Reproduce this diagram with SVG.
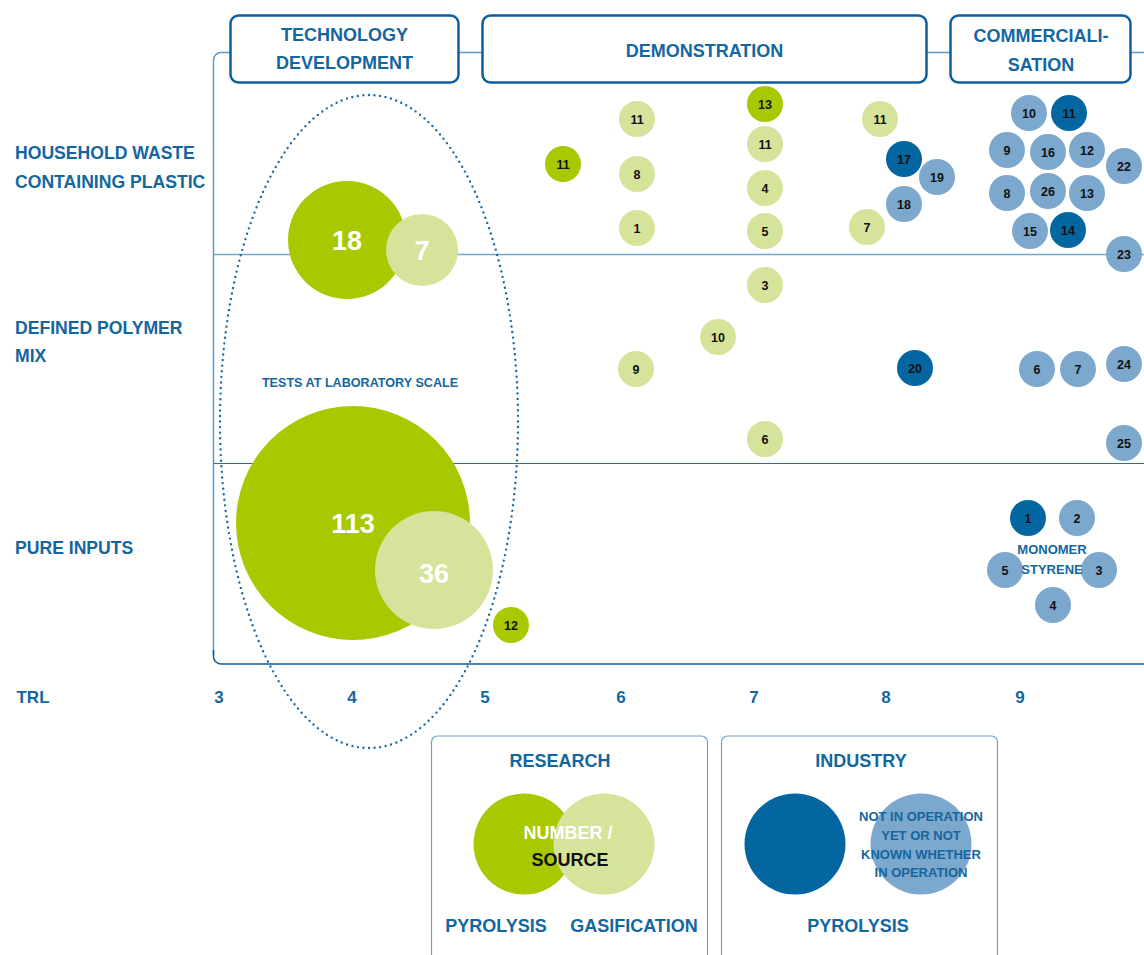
<svg xmlns="http://www.w3.org/2000/svg" width="1144" height="955" viewBox="0 0 1144 955">
<style>
text{font-family:"Liberation Sans",Arial,sans-serif;font-weight:bold;text-anchor:middle}
.hd{fill:#14669f;font-size:18px}
.row{fill:#14669f;font-size:17.6px;text-anchor:start}
.ax{fill:#14669f;font-size:17px}
.n{fill:#111;font-size:12.5px}
.big{fill:#fff;font-size:27px}
.sm{fill:#14669f;font-size:13px}
.box{fill:#fff;stroke:#0b5f9c;stroke-width:2.5}
.lbox{fill:#fff;stroke:#6aa3cc;stroke-width:1.2}
.pg{fill:#a8c800}
.lg{fill:#d6e39b}
.db{fill:#0366a1}
.lb{fill:#7ba8cc}
</style>
<rect width="1144" height="955" fill="#fff"/>
<g id="frame">
<path d="M1144 52.5H221a7.5 7.5 0 0 0-7.5 7.5V655" fill="none" stroke="#5b9acb" stroke-width="1.5"/>
<path d="M213.5 650v6.5a7.5 7.5 0 0 0 7.5 7.5H1144" fill="none" stroke="#0c5c94" stroke-width="1.5"/>
<line x1="213.5" y1="254.5" x2="1144" y2="254.5" stroke="#6fa8d0" stroke-width="1.5"/>
<line x1="213.5" y1="463.5" x2="1144" y2="463.5" stroke="#2a6e9c" stroke-width="1.2"/>
</g>
<g id="headers">
<g id="h-tech"><rect class="box" x="230.5" y="15.5" width="228" height="67" rx="8"/><text class="hd" x="344.5" y="41">TECHNOLOGY</text><text class="hd" x="344.5" y="69">DEVELOPMENT</text></g>
<g id="h-demo"><rect class="box" x="482.5" y="15.5" width="444" height="67" rx="8"/><text class="hd" x="704.5" y="56.5">DEMONSTRATION</text></g>
<g id="h-comm"><rect class="box" x="950.5" y="15.5" width="180" height="67" rx="8"/><text class="hd" x="1041" y="41.5">COMMERCIALI-</text><text class="hd" x="1041" y="70.5">SATION</text></g>
</g>
<g id="rows">
<text class="row" x="15" y="159">HOUSEHOLD WASTE</text>
<text class="row" x="15" y="188">CONTAINING PLASTIC</text>
<text class="row" x="15" y="334">DEFINED POLYMER</text>
<text class="row" x="15" y="362">MIX</text>
<text class="row" x="15" y="554">PURE INPUTS</text>
</g>
<g id="axis">
<text class="ax" x="33" y="703">TRL</text>
<text class="ax" x="219" y="703">3</text>
<text class="ax" x="352" y="703">4</text>
<text class="ax" x="485" y="703">5</text>
<text class="ax" x="621" y="703">6</text>
<text class="ax" x="754" y="703">7</text>
<text class="ax" x="886" y="703">8</text>
<text class="ax" x="1020" y="703">9</text>
</g>
<g id="lab">
<g id="b18"><circle class="pg" cx="347" cy="240" r="59"/><text class="big" x="347" y="250">18</text></g>
<g id="b7"><circle class="lg" cx="422" cy="250" r="36"/><text class="big" x="422" y="260">7</text></g>
<g id="b113"><circle class="pg" cx="353" cy="523" r="117"/><text class="big" x="353" y="533">113</text></g>
<g id="b36"><circle class="lg" cx="434" cy="570" r="59"/><text class="big" x="434" y="583">36</text></g>
<text class="sm" x="360" y="386.5" style="font-size:12.6px">TESTS AT LABORATORY SCALE</text>
<ellipse cx="369" cy="421.5" rx="149" ry="326.5" fill="none" stroke="#1a6aa3" stroke-width="2.4" stroke-dasharray="0 5.6" stroke-linecap="round"/>
</g>
<g id="bubbles">
<g><circle class="pg" cx="563" cy="164" r="18"/><text class="n" x="563" y="168.5">11</text></g>
<g><circle class="pg" cx="765" cy="104" r="18"/><text class="n" x="765" y="108.5">13</text></g>
<g><circle class="pg" cx="511" cy="625" r="18"/><text class="n" x="511" y="629.5">12</text></g>
<g><circle class="lg" cx="637" cy="119" r="18"/><text class="n" x="637" y="123.5">11</text></g>
<g><circle class="lg" cx="637" cy="174" r="18"/><text class="n" x="637" y="178.5">8</text></g>
<g><circle class="lg" cx="637" cy="228" r="18"/><text class="n" x="637" y="232.5">1</text></g>
<g><circle class="lg" cx="636" cy="369" r="18"/><text class="n" x="636" y="373.5">9</text></g>
<g><circle class="lg" cx="765" cy="144" r="18"/><text class="n" x="765" y="148.5">11</text></g>
<g><circle class="lg" cx="765" cy="188" r="18"/><text class="n" x="765" y="192.5">4</text></g>
<g><circle class="lg" cx="765" cy="231" r="18"/><text class="n" x="765" y="235.5">5</text></g>
<g><circle class="lg" cx="765" cy="285" r="18"/><text class="n" x="765" y="289.5">3</text></g>
<g><circle class="lg" cx="765" cy="439" r="18"/><text class="n" x="765" y="443.5">6</text></g>
<g><circle class="lg" cx="718" cy="337" r="18"/><text class="n" x="718" y="341.5">10</text></g>
<g><circle class="lg" cx="880" cy="119" r="18"/><text class="n" x="880" y="123.5">11</text></g>
<g><circle class="lg" cx="867" cy="227" r="18"/><text class="n" x="867" y="231.5">7</text></g>
<g><circle class="db" cx="904" cy="159" r="18"/><text class="n" x="904" y="163.5">17</text></g>
<g><circle class="db" cx="915" cy="368" r="18"/><text class="n" x="915" y="372.5">20</text></g>
<g><circle class="db" cx="1069" cy="113" r="18"/><text class="n" x="1069" y="117.5">11</text></g>
<g><circle class="db" cx="1068" cy="230" r="18"/><text class="n" x="1068" y="234.5">14</text></g>
<g><circle class="db" cx="1028" cy="518" r="18"/><text class="n" x="1028" y="522.5">1</text></g>
<g><circle class="lb" cx="937" cy="177" r="18"/><text class="n" x="937" y="181.5">19</text></g>
<g><circle class="lb" cx="904" cy="204" r="18"/><text class="n" x="904" y="208.5">18</text></g>
<g><circle class="lb" cx="1029" cy="113" r="18"/><text class="n" x="1029" y="117.5">10</text></g>
<g><circle class="lb" cx="1007" cy="150" r="18"/><text class="n" x="1007" y="154.5">9</text></g>
<g><circle class="lb" cx="1048" cy="152" r="18"/><text class="n" x="1048" y="156.5">16</text></g>
<g><circle class="lb" cx="1087" cy="150" r="18"/><text class="n" x="1087" y="154.5">12</text></g>
<g><circle class="lb" cx="1124" cy="166" r="18"/><text class="n" x="1124" y="170.5">22</text></g>
<g><circle class="lb" cx="1007" cy="193" r="18"/><text class="n" x="1007" y="197.5">8</text></g>
<g><circle class="lb" cx="1048" cy="191" r="18"/><text class="n" x="1048" y="195.5">26</text></g>
<g><circle class="lb" cx="1087" cy="193" r="18"/><text class="n" x="1087" y="197.5">13</text></g>
<g><circle class="lb" cx="1030" cy="231" r="18"/><text class="n" x="1030" y="235.5">15</text></g>
<g><circle class="lb" cx="1124" cy="254" r="18"/><text class="n" x="1124" y="258.5">23</text></g>
<g><circle class="lb" cx="1037" cy="369" r="18"/><text class="n" x="1037" y="373.5">6</text></g>
<g><circle class="lb" cx="1078" cy="369" r="18"/><text class="n" x="1078" y="373.5">7</text></g>
<g><circle class="lb" cx="1124" cy="364" r="18"/><text class="n" x="1124" y="368.5">24</text></g>
<g><circle class="lb" cx="1124" cy="443" r="18"/><text class="n" x="1124" y="447.5">25</text></g>
<g><circle class="lb" cx="1077" cy="518" r="18"/><text class="n" x="1077" y="522.5">2</text></g>
<g><circle class="lb" cx="1005" cy="570" r="18"/><text class="n" x="1005" y="574.5">5</text></g>
<g><circle class="lb" cx="1099" cy="570" r="18"/><text class="n" x="1099" y="574.5">3</text></g>
<g><circle class="lb" cx="1053" cy="605" r="18"/><text class="n" x="1053" y="609.5">4</text></g>
<text class="sm" x="1052" y="553.5">MONOMER</text>
<text class="sm" x="1052" y="573.5">STYRENE</text>
</g>
<g id="legend-research">
<path class="lbox" d="M431.5 960V742a6 6 0 0 1 6-6h264a6 6 0 0 1 6 6V960"/>
<text class="hd" x="560" y="767">RESEARCH</text>
<circle class="pg" cx="524" cy="844" r="50.5"/>
<circle class="lg" cx="604" cy="844" r="50.5"/>
<text class="hd" x="568" y="839" fill="#fff" style="fill:#fff">NUMBER /</text>
<text class="hd" x="570" y="866" style="fill:#111">SOURCE</text>
<text class="hd" x="496" y="932">PYROLYSIS</text>
<text class="hd" x="634" y="932">GASIFICATION</text>
</g>
<g id="legend-industry">
<path class="lbox" d="M721.5 960V742a6 6 0 0 1 6-6h264a6 6 0 0 1 6 6V960"/>
<text class="hd" x="861" y="767">INDUSTRY</text>
<circle class="db" cx="795" cy="844" r="50.5"/>
<circle class="lb" cx="921" cy="844" r="50.5"/>
<text class="sm" x="921" y="820.5">NOT IN OPERATION</text>
<text class="sm" x="921" y="839.5">YET OR NOT</text>
<text class="sm" x="921" y="858.5">KNOWN WHETHER</text>
<text class="sm" x="921" y="877">IN OPERATION</text>
<text class="hd" x="858" y="932">PYROLYSIS</text>
</g>
</svg>
